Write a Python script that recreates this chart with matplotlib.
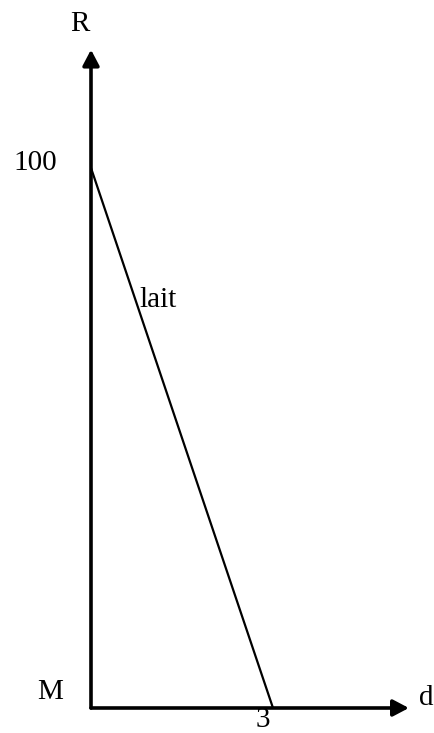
import numpy as np
import matplotlib.pyplot as plt

plt.rcParams['font.family'] = ['Liberation Serif', 'DejaVu Serif']

# data
d_values = [0, 3]
r_values = [100, 0]
x_label = 'd'
y_label = 'R'
origin_label = 'M'
line_label = 'lait'

fig = plt.figure(figsize=(4.34, 7.33), dpi=100)
ax = fig.add_axes([0, 0, 1, 1])
ax.set_xlim(-1.5, 5.654)
ax.set_ylim(-4.63, 131.1)
ax.axis('off')

# axes with arrows
x_end = 5.24
y_end = 121.9
arrow = dict(arrowstyle='-|>,head_length=0.95,head_width=0.5',
             color='black', lw=2.6, shrinkA=0, shrinkB=0)
ax.annotate('', xy=(x_end, 0), xytext=(0, 0), arrowprops=arrow)
ax.annotate('', xy=(0, y_end), xytext=(0, 0), arrowprops=arrow)

# the line
ax.plot(d_values, r_values, color='black', lw=1.6, solid_capstyle='butt')

fs = 21
ax.text(-0.18, 126.6, y_label, fontsize=fs, ha='center', va='center')
ax.text(x_end + 0.29, 1.8, x_label, fontsize=fs, ha='center', va='center')
ax.text(-0.68, 2.9, origin_label, fontsize=fs, ha='center', va='center')
ax.text(-0.92, r_values[0] + 1.0, str(r_values[0]), fontsize=fs,
        ha='center', va='center')
ax.text(d_values[1] - 0.17, -2.3, str(d_values[1]), fontsize=fs,
        ha='center', va='center')
ax.text(1.1, 75.5, line_label, fontsize=fs, ha='center', va='center')

fig.savefig('out.png', dpi=100)
